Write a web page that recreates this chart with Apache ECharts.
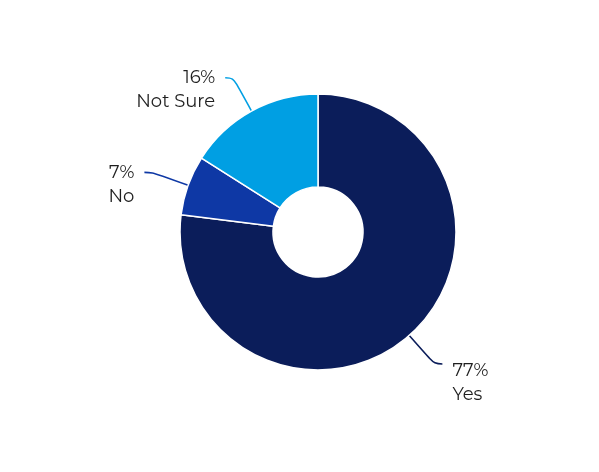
<!DOCTYPE html>
<html><head><meta charset="utf-8">
<script src="https://cdn.jsdelivr.net/npm/echarts@6/dist/echarts.min.js"></script>
<style>html,body{margin:0;padding:0;background:#fff}#c{width:599px;height:472px}</style>
</head><body><div id="c"></div>
<script>
const categories = ['Yes', 'No', 'Not Sure'];
const values = [77, 7, 16];
const colors = ['#0b1d5a', '#0e38a5', '#009fe3'];

const chart = echarts.init(document.getElementById('c'));
chart.setOption({
  animation: false,
  series: [{
    type: 'pie',
    center: [318, 232],
    radius: [45, 138],
    startAngle: 90,
    clockwise: true,
    itemStyle: { borderColor: '#fff', borderWidth: 1.5 },
    data: categories.map((n, i) => ({
      name: n, value: values[i],
      itemStyle: { color: colors[i] }
    })),
    label: {
      position: 'outside',
      formatter: p => '{g' + p.dataIndex + '| }\n{t|' + p.value + '%}\n{t|' + p.name + '}',
      fontFamily: 'Montserrat, "Open Sans", sans-serif',
      fontSize: 18,
      lineHeight: 24,
      color: '#1e1e1e',
      distanceToLabelLine: 10,
      rich: {
        g0: { lineHeight: 38, fontSize: 18 },
        g1: { lineHeight: 24, fontSize: 18 },
        g2: { lineHeight: 24, fontSize: 18 },
        t: { fontSize: 18, lineHeight: 24, color: '#1e1e1e', fontFamily: 'Montserrat, "Open Sans", sans-serif' }
      }
    },
    labelLine: {
      show: true,
      length: 38,
      length2: 8,
      smooth: 0.4,
      lineStyle: { width: 1.6 }
    }
  }]
});
</script></body></html>
